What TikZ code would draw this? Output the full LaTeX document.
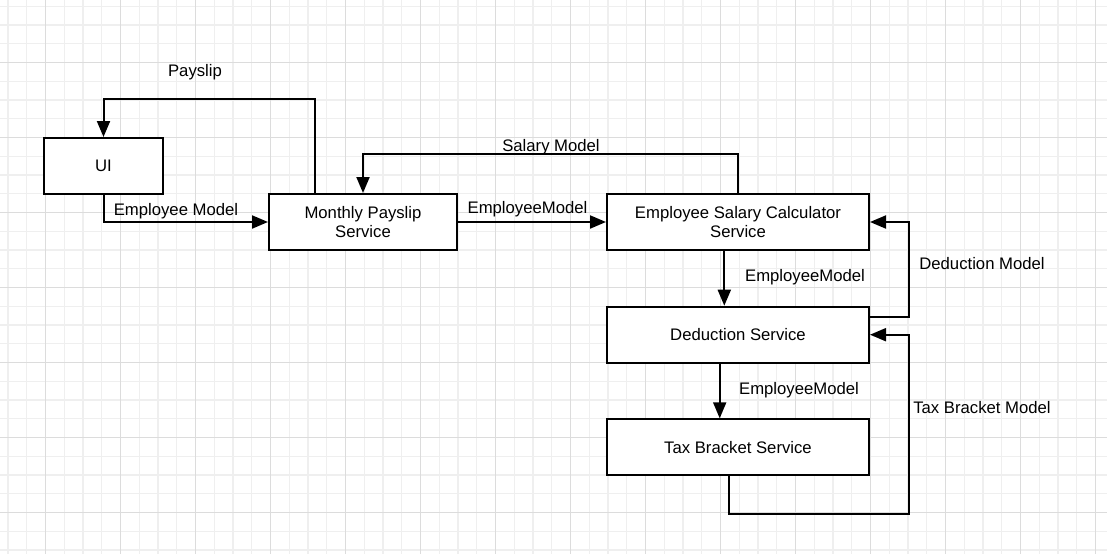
\documentclass[tikz,border=0pt]{standalone}
\usepackage{fontspec}
\setmainfont{Liberation Sans}
\usetikzlibrary{arrows.meta}
\definecolor{gridlight}{HTML}{EFEFEF}
\definecolor{griddark}{HTML}{DCDCDC}
\tikzset{
	box/.style={draw, line width=2pt, fill=white, minimum height=56pt, inner sep=0pt, align=center},
	lbl/.style={anchor=base, inner sep=0pt},
	flow/.style={line width=2pt, -{Triangle[length=16pt,width=13pt]}},
}
\begin{document}
\begin{tikzpicture}[x=1pt, y=-1pt, font=\fontsize{16.7}{19.5}\selectfont, line join=miter]
	\useasboundingbox (0,0) rectangle (1107,554);
	\fill[white] (0,0) rectangle (1107,554);
	% grid
	\foreach \i in {0,...,58}
	\draw[gridlight, line width=1pt] ({8.2+18.75*\i},0) -- ({8.2+18.75*\i},554);
	\foreach \j in {0,...,29}
	\draw[gridlight, line width=1pt] (0,{6.05+18.75*\j}) -- (1107,{6.05+18.75*\j});
	\foreach \i in {0,...,14}
	\draw[gridlight, line width=2.2pt] ({8.2+75*\i},0) -- ({8.2+75*\i},554);
	\foreach \j in {0,...,7}
	\draw[gridlight, line width=2.2pt] (0,{24.8+75*\j}) -- (1107,{24.8+75*\j});
	\foreach \i in {0,...,14}
	\draw[griddark, line width=1pt] ({45.7+75*\i},0) -- ({45.7+75*\i},554);
	\foreach \j in {0,...,7}
	\draw[griddark, line width=1pt] (0,{62.3+75*\j}) -- (1107,{62.3+75*\j});
	% services
	\node[box, minimum width=119pt] (ui) at (103.5,166) {UI};
	\node[box, minimum width=188pt] (mps) at (363,222) {Monthly Payslip\\Service};
	\node[box, minimum width=262pt] (esc) at (738,222) {Employee Salary Calculator\\Service};
	\node[box, minimum width=262pt] (ded) at (738,334.7) {Deduction Service};
	\node[box, minimum width=262pt] (tax) at (738,447.3) {Tax Bracket Service};
	% connectors
	\coordinate (pay) at (315.3,99.3);
	\draw[flow] (mps.north -| pay) -- (pay) -| (ui.north);
	\draw[flow] (ui.south) |- (mps.west);
	\draw[flow] (esc.north) -- ++(0,-39) -| (mps.north);
	\draw[flow] (mps.east) -- (esc.west);
	\draw[flow] ([xshift=-13.7pt]esc.south) -- ([xshift=-13.7pt]ded.north);
	\draw[flow] ([xshift=-18.3pt]ded.south) -- ([xshift=-18.3pt]tax.north);
	\draw[flow] ([yshift=18pt]ded.east) -- ++(39,0) |- (esc.east);
	\draw[flow] ([xshift=-9pt]tax.south) -- ++(0,38) -| ([xshift=39pt]ded.east) -- (ded.east);
	% labels
	\node[lbl] (lpay) at (195,76.7) {Payslip};
	\node[lbl] (lemp) at (176,215) {Employee Model};
	\node[lbl] (lsal) at (551,151) {Salary Model};
	\node[lbl] (lemp2) at (527.5,213) {EmployeeModel};
	\node[lbl] (lemp3) at (805,281.7) {EmployeeModel};
	\node[lbl] (lemp4) at (799,394) {EmployeeModel};
	\node[lbl] (lded) at (982,269) {Deduction Model};
	\node[lbl] (ltax) at (982,413) {Tax Bracket Model};
\end{tikzpicture}
\end{document}
